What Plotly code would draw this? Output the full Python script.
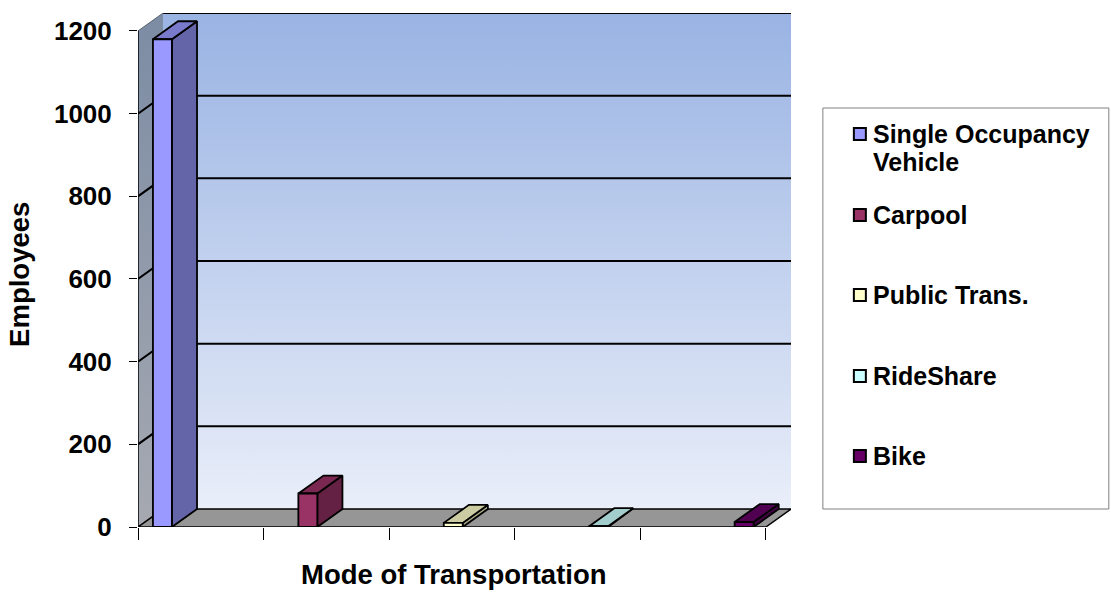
import plotly.graph_objects as go

# ---- data -------------------------------------------------------------
modes = ["Single Occupancy Vehicle", "Carpool", "Public Trans.", "RideShare", "Bike"]
legend_labels = [["Single Occupancy", "Vehicle"], ["Carpool"], ["Public Trans."],
                 ["RideShare"], ["Bike"]]
employees = [1180, 81, 10, 2, 12]
y_ticks = [0, 200, 400, 600, 800, 1000, 1200]
x_ticks = [0, 1, 2, 3, 4, 5]

# ---- styling ----------------------------------------------------------
front_colors = ["#9999FF", "#993366", "#FFFFCC", "#CCFFFF", "#660066"]
FONT = "Liberation Sans, Arial, sans-serif"

W, H = 1111, 592
ML, MB = 138, 65
DX, DY = 0.2, 43.5          # depth offset of the 3-D projection (axis units)
X_MAX = 5 + DX
Y_MAX = 1200 + DY
PX_X = 125.6                # pixels per x unit
PLOT_H = 514.0
MR = W - ML - PX_X * X_MAX
MT = H - MB - PLOT_H

BAR_X0, BAR_STEP, BAR_W = 0.119, 1.158, 0.151


def shade(hex_color, k):
    h = hex_color.lstrip("#")
    r, g, b = (int(h[i:i + 2], 16) for i in (0, 2, 4))
    return "rgb(%d,%d,%d)" % (r * k, g * k, b * k)


def poly(xs, ys, fill, line_color="black", width=1.5, **kw):
    return go.Scatter(
        x=list(xs) + [xs[0]], y=list(ys) + [ys[0]],
        mode="lines", fill="toself", fillcolor=fill,
        line=dict(color=line_color, width=width),
        hoverinfo="skip", showlegend=False, **kw)


fig = go.Figure()

# back wall with vertical gradient
fig.add_trace(go.Scatter(
    x=[DX, X_MAX, X_MAX, DX, DX], y=[DY, DY, Y_MAX, Y_MAX, DY],
    mode="lines", fill="toself",
    fillgradient=dict(type="vertical",
                      colorscale=[[0, "#e9eef9"], [1, "#99b3e3"]]),
    line=dict(width=0), hoverinfo="skip", showlegend=False))
# back wall top edge
fig.add_trace(go.Scatter(x=[DX, X_MAX], y=[Y_MAX, Y_MAX], mode="lines",
                         line=dict(color="black", width=2),
                         hoverinfo="skip", showlegend=False))

# left wall
fig.add_trace(go.Scatter(
    x=[0, DX, DX, 0, 0], y=[0, DY, Y_MAX, 1200, 0],
    mode="lines", fill="toself",
    fillgradient=dict(type="vertical",
                      colorscale=[[0, "#a6a9b1"], [1, "#7c8ca4"]]),
    line=dict(width=0), hoverinfo="skip", showlegend=False))
# left wall top edge
fig.add_trace(go.Scatter(x=[0, DX], y=[1200, Y_MAX], mode="lines",
                         line=dict(color="#5a6270", width=1),
                         hoverinfo="skip", showlegend=False))

# gridlines on the left and back walls
for v in y_ticks[1:-1]:
    fig.add_trace(go.Scatter(
        x=[0, DX, X_MAX], y=[v, v + DY, v + DY], mode="lines",
        line=dict(color="black", width=2), hoverinfo="skip", showlegend=False))

# floor
fig.add_trace(poly([0, 5, X_MAX, DX], [0, 0, DY, DY], "#969696", width=1.5))

# y axis line
fig.add_trace(go.Scatter(x=[0, 0], y=[0, 1200], mode="lines",
                         line=dict(color="black", width=1.5),
                         hoverinfo="skip", showlegend=False))

# 3-D columns
for i, (name, v, c) in enumerate(zip(modes, employees, front_colors)):
    x0 = BAR_X0 + i * BAR_STEP
    x1 = x0 + BAR_W
    # side face
    fig.add_trace(poly([x1, x1 + DX, x1 + DX, x1], [0, DY, v + DY, v],
                       shade(c, 0.66), width=1.8, name=name))
    # top face
    fig.add_trace(poly([x0, x1, x1 + DX, x0 + DX], [v, v, v + DY, v + DY],
                       shade(c, 0.8), width=1.8, name=name))
    # front face
    fig.add_trace(poly([x0, x1, x1, x0], [0, 0, v, v], c, width=1.8, name=name))

# ---- legend box (drawn in paper space) -------------------------------
plot_w = PX_X * X_MAX


def px_x(p):
    return (p - ML) / plot_w


def px_y(p):
    return (H - MB - p) / PLOT_H


shapes = [dict(type="rect", xref="paper", yref="paper",
               x0=px_x(823), x1=px_x(1109), y0=px_y(509), y1=px_y(108),
               line=dict(color="#808080", width=1), fillcolor="white")]
annotations = []
legend_rows = [134, 215, 295, 376, 456]
LINE_STEP = 28
for lines, c, yc in zip(legend_labels, front_colors, legend_rows):
    shapes.append(dict(type="rect", xref="paper", yref="paper",
                       x0=px_x(854), x1=px_x(866), y0=px_y(yc + 6), y1=px_y(yc - 6),
                       line=dict(color="black", width=2), fillcolor=c))
    for k, line in enumerate(lines):
        annotations.append(dict(
            xref="paper", yref="paper", x=px_x(871), y=px_y(yc + k * LINE_STEP),
            xanchor="left", yanchor="middle", align="left", showarrow=False,
            text=line, font=dict(family=FONT, size=25, color="black", weight="bold")))

# axis titles
annotations.append(dict(
    xref="x", yref="paper", x=2.52, y=px_y(591), xanchor="center", yanchor="bottom",
    showarrow=False, text="Mode of Transportation", borderpad=0,
    font=dict(family=FONT, size=27.5, color="black", weight="bold")))
annotations.append(dict(
    xref="paper", yref="y", x=px_x(20), y=610, xanchor="center", yanchor="middle",
    textangle=-90, showarrow=False, text="Employees",
    font=dict(family=FONT, size=27.5, color="black", weight="bold")))

fig.update_layout(
    width=W, height=H,
    margin=dict(l=ML, r=MR, t=MT, b=MB, pad=0),
    paper_bgcolor="white", plot_bgcolor="white",
    showlegend=False,
    shapes=shapes, annotations=annotations,
    xaxis=dict(range=[0, X_MAX], tickvals=x_ticks, showticklabels=False,
               ticks="outside", ticklen=12, tickwidth=1, tickcolor="black",
               showgrid=False, zeroline=False, showline=False, fixedrange=True),
    yaxis=dict(range=[0, Y_MAX], tickvals=y_ticks, ticks="outside", ticklen=8,
               tickwidth=1, tickcolor="black", showgrid=False, zeroline=False,
               showline=False, ticklabelstandoff=12,
               tickfont=dict(family=FONT, size=26, color="black", weight="bold"),
               fixedrange=True),
)

fig.write_html("out.html")
